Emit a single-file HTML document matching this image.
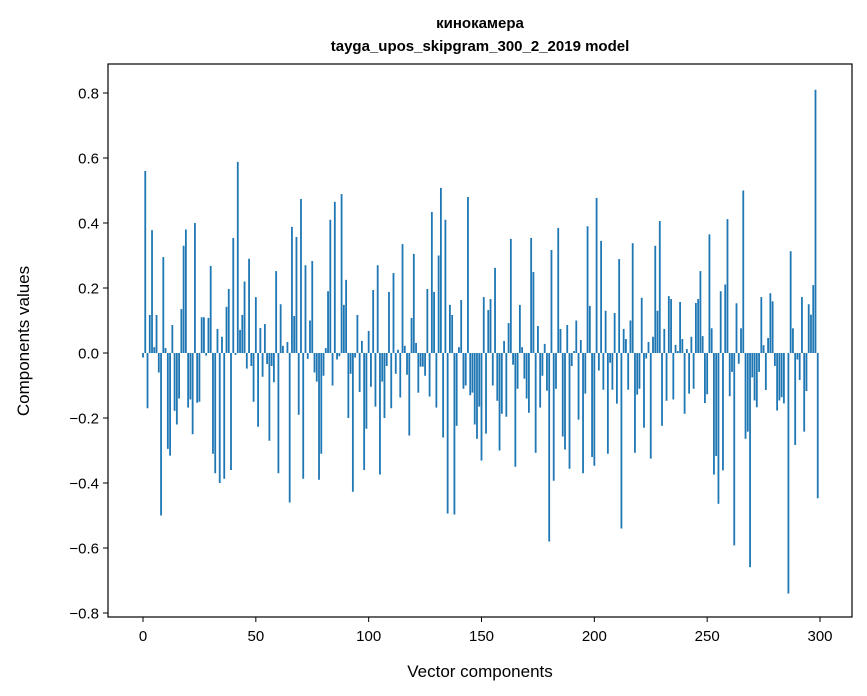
<!DOCTYPE html>
<html><head><meta charset="utf-8"><style>
body{margin:0;background:#fff;}
svg{display:block;font-family:"Liberation Sans","DejaVu Sans",sans-serif;}
</style></head><body>
<svg id="chart" width="867" height="696" viewBox="0 0 867 696">
<rect width="867" height="696" fill="#fff"/>
<text x="480" y="28" text-anchor="middle" font-size="15" font-weight="bold">кинокамера</text>
<text x="480" y="51" text-anchor="middle" font-size="15" font-weight="bold">tayga_upos_skipgram_300_2_2019 model</text>
<g id="bars"></g>
<g id="xticks"></g>
<g id="yticks"></g>
<rect x="108" y="64" width="744" height="553" fill="none" stroke="#000" stroke-width="1.2"/>
<text x="480" y="677" text-anchor="middle" font-size="17">Vector components</text>
<text transform="translate(29,341) rotate(-90)" text-anchor="middle" font-size="17">Components values</text>
</svg>
<script>
const values = [
-0.014,0.56,-0.17,0.117,0.378,0.018,0.117,-0.06,-0.5,0.295,
0.015,-0.295,-0.316,0.086,-0.178,-0.22,-0.14,0.135,0.33,0.38,
-0.168,-0.143,-0.25,0.4,-0.153,-0.15,0.11,0.11,-0.008,0.108,
0.268,-0.31,-0.37,0.074,-0.4,0.05,-0.387,0.142,0.197,-0.36,
0.354,-0.006,0.588,0.071,0.117,0.22,-0.048,0.29,-0.04,-0.15,
0.172,-0.227,0.077,-0.073,0.089,-0.034,-0.27,-0.04,-0.09,0.252,
-0.37,0.15,0.022,0,0.034,-0.46,0.388,0.114,0.357,-0.19,
0.474,-0.387,0.27,-0.018,0.1,0.283,-0.06,-0.088,-0.39,-0.31,
-0.07,0.015,0.19,0.41,-0.1,0.465,-0.02,-0.01,0.489,0.148,
0.225,-0.2,-0.064,-0.427,-0.014,0.117,-0.12,0.037,-0.36,-0.233,
0.068,-0.104,0.194,-0.165,0.27,-0.374,-0.088,-0.2,-0.04,0.188,
-0.17,0.246,-0.064,0.01,-0.137,0.335,0.022,-0.067,-0.254,0.108,
0.305,0.031,-0.122,-0.042,-0.042,-0.07,0.197,-0.134,0.434,0.188,
-0.168,0.3,0.508,-0.26,0.41,-0.494,0.148,0.117,-0.497,-0.224,
0.018,0.163,-0.11,-0.1,0.48,-0.13,-0.122,-0.22,-0.264,-0.165,
-0.331,0.172,-0.248,0.132,0.166,-0.1,0.262,-0.147,-0.3,-0.187,
0.037,-0.196,0.092,0.351,-0.036,-0.35,-0.11,0.148,0.018,-0.079,
-0.14,-0.184,0.354,0.249,-0.307,0.083,-0.168,-0.07,0.028,-0.116,
-0.58,0.317,-0.393,-0.11,0.385,0.074,-0.257,-0.297,0.086,-0.356,
-0.04,0.006,0.1,-0.205,0.04,-0.37,-0.125,0.39,0.145,-0.32,
-0.347,0.477,-0.054,0.345,-0.113,0.13,-0.31,-0.03,-0.113,0.123,
-0.156,0.289,-0.54,0.074,0.043,-0.113,0.1,0.338,-0.307,-0.128,
-0.11,0.17,-0.23,-0.017,0.034,-0.325,0.05,0.33,0.13,0.406,
-0.224,0.074,-0.147,0.175,0.166,-0.143,0.025,0.006,0.157,0.043,
-0.187,0.012,-0.125,0.05,-0.11,0.154,0.166,0.252,0.052,-0.154,
-0.127,0.365,0.076,-0.374,-0.317,-0.464,0.19,-0.361,0.211,0.412,
-0.133,-0.058,-0.592,0.153,-0.033,0.076,0.5,-0.264,-0.242,-0.659,
-0.075,-0.146,-0.167,-0.058,0.172,0.024,-0.114,0.046,0.184,0.159,
-0.04,-0.177,-0.146,-0.136,-0.155,0,-0.74,0.313,0.076,-0.283,
-0.02,-0.083,0.172,-0.242,-0.117,0.15,0.118,0.209,0.81,-0.447
];
const xTickValues = [0,50,100,150,200,250,300];
const yTickValues = [-0.8,-0.6,-0.4,-0.2,0.0,0.2,0.4,0.6,0.8];
const yTickLabels = ["\u22120.8","\u22120.6","\u22120.4","\u22120.2","0.0","0.2","0.4","0.6","0.8"];

const NS="http://www.w3.org/2000/svg";
function xs(v){return 143+v*(820-143)/300;}
function ys(v){return 353-v*325;}
const bars=document.getElementById('bars');
values.forEach((v,i)=>{
  const r=document.createElementNS(NS,'rect');
  const w=0.8*(820-143)/300;
  r.setAttribute('x',xs(i)-w/2);
  r.setAttribute('y',Math.min(ys(v),ys(0)));
  r.setAttribute('width',w);
  r.setAttribute('height',Math.abs(ys(v)-ys(0)));
  r.setAttribute('fill','#1f77b4');
  
  
  bars.appendChild(r);
});
const xg=document.getElementById('xticks');
xTickValues.forEach(t=>{
  const l=document.createElementNS(NS,'line');
  l.setAttribute('x1',xs(t));l.setAttribute('x2',xs(t));
  l.setAttribute('y1',617);l.setAttribute('y2',622);
  l.setAttribute('stroke','#000');
  
  
  xg.appendChild(l);
  const tx=document.createElementNS(NS,'text');
  tx.setAttribute('x',xs(t));tx.setAttribute('y',641);
  tx.setAttribute('text-anchor','middle');tx.setAttribute('font-size','15');
  tx.textContent=t;
  
  
  xg.appendChild(tx);
});
const yg=document.getElementById('yticks');
yTickValues.forEach((t,i)=>{
  const l=document.createElementNS(NS,'line');
  l.setAttribute('x1',103);l.setAttribute('x2',108);
  l.setAttribute('y1',ys(t));l.setAttribute('y2',ys(t));
  l.setAttribute('stroke','#000');
  
  
  yg.appendChild(l);
  const tx=document.createElementNS(NS,'text');
  tx.setAttribute('x',99);tx.setAttribute('y',ys(t)+5.5);
  tx.setAttribute('text-anchor','end');tx.setAttribute('font-size','15');
  tx.textContent=yTickLabels[i];
  
  
  yg.appendChild(tx);
});
</script>
</body></html>
